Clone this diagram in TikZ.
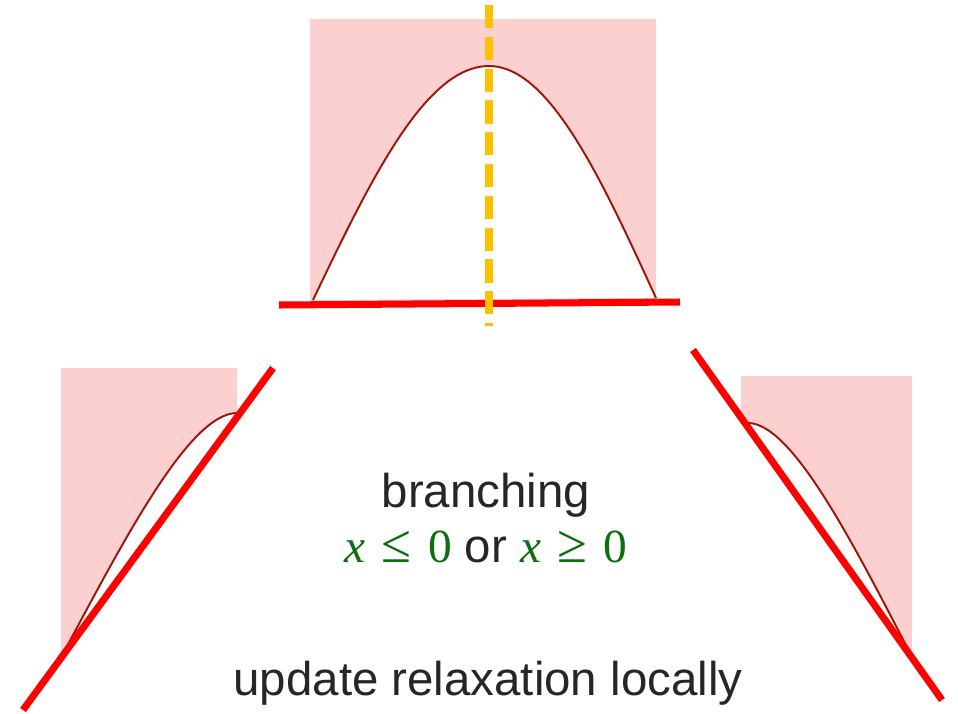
\documentclass[tikz,border=0pt]{standalone}
\usepackage{fontspec}
\setmainfont{Liberation Sans}
\newfontfamily\condfont{Liberation Serif}
\usetikzlibrary{positioning}
\definecolor{relaxpink}{RGB}{251,208,206}
\definecolor{curvered}{RGB}{160,20,10}
\definecolor{cutred}{RGB}{255,0,0}
\definecolor{splitgold}{RGB}{255,192,0}
\definecolor{condgreen}{RGB}{12,110,12}
\definecolor{labelgray}{RGB}{38,38,38}
\newcommand{\bound}[1]{\textcolor{condgreen}{\condfont\itshape x\upshape\hspace{0.34em}{\fontsize{31}{32}\selectfont #1}\hspace{0.34em}0}}
\tikzset{
  relax/.style={fill=relaxpink},
  hole/.style={fill=white},
  func/.style={draw=curvered,line width=1.1pt},
  cut/.style={draw=cutred,line width=4pt},
  split/.style={draw=splitgold,line width=4.4pt,dash pattern=on 13.2pt off 4.9pt},
  txt/.style={text=labelgray,inner sep=0pt,font=\fontsize{27}{32}\selectfont},
}
\begin{document}
\begin{tikzpicture}[x=0.02cm,y=-0.02cm]
    \useasboundingbox (0,0) rectangle (958,714);

    % root: relaxation before branching
    \fill[relax] (310,19) rectangle (656,303);
    \fill[hole] plot[domain=313:489,samples=40] (\x,{300-234*cos(90*(489-\x)/176)})
        -- plot[domain=489:656,samples=40] (\x,{298-232*cos(90*(\x-489)/167)}) -- cycle;
    \draw[func] plot[domain=313:489,samples=40] (\x,{300-234*cos(90*(489-\x)/176)})
        -- plot[domain=489:656,samples=40] (\x,{298-232*cos(90*(\x-489)/167)});
    \draw[cut] (279,305) -- (680,302);
    \draw[split] (489,5) -- (489,326);

    % left child: x <= 0
    \fill[relax] (61,368) rectangle (237,653);
    \fill[hole] (65,650) .. controls (125,538) and (190,413) .. (237,413) -- (237,653) -- (65,653) -- cycle;
    \draw[func] (65,650) .. controls (125,538) and (190,413) .. (237,413);
    \draw[cut] (23,710) -- (273,368);

    % right child: x >= 0
    \fill[relax] (741,376) rectangle (912,661);
    \fill[hole] (741,423) -- (748,423) .. controls (792,423) and (853.5,544) .. (910,653) -- (912,661) -- (741,661) -- cycle;
    \draw[func] (748,423) .. controls (792,423) and (853.5,544) .. (910,653);
    \draw[cut] (693,350) -- (942,700);

    \node (branch) [txt,anchor=base] at (486,507) {branching};
    \node (cond) [txt,below = 0.26cm,at=(branch.south)] {\bound{≤} or \bound{≥}};
    \node (update) [txt,anchor=base] at (488,695) {update relaxation locally};
\end{tikzpicture}
\end{document}
